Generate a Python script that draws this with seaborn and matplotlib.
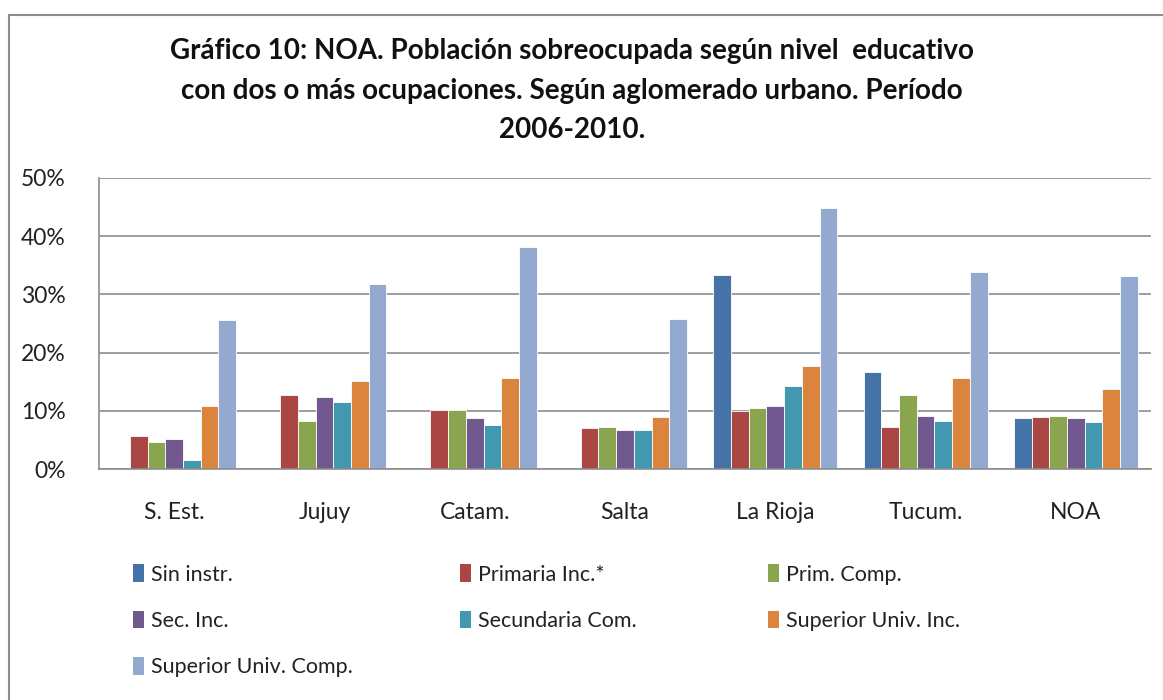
import matplotlib
matplotlib.use("Agg")
import matplotlib.pyplot as plt
import seaborn as sns
import pandas as pd
from matplotlib.patches import Rectangle, Patch
from matplotlib.ticker import PercentFormatter

categories = ["S. Est.", "Jujuy", "Catam.", "Salta", "La Rioja", "Tucum.", "NOA"]
series = ["Sin instr.", "Primaria Inc.*", "Prim. Comp.", "Sec. Inc.",
          "Secundaria Com.", "Superior Univ. Inc.", "Superior Univ. Comp."]
sin_instr = [0.0, 0.0, 0.0, 0.0, 33.3, 16.7, 8.7]
primaria_inc = [5.6, 12.8, 10.2, 7.1, 10.0, 7.3, 8.9]
prim_comp = [4.7, 8.2, 10.2, 7.3, 10.4, 12.8, 9.1]
sec_inc = [5.2, 12.4, 8.7, 6.7, 10.9, 9.1, 8.7]
secundaria_com = [1.6, 11.5, 7.6, 6.7, 14.2, 8.2, 8.0]
sup_univ_inc = [10.9, 15.1, 15.7, 8.9, 17.7, 15.7, 13.7]
sup_univ_comp = [25.6, 31.8, 38.1, 25.8, 44.8, 33.8, 33.1]
colors = ["#4572A7", "#AA4643", "#89A54E", "#71588F", "#4198AF", "#DB843D", "#93A9CF"]

values = [sin_instr, primaria_inc, prim_comp, sec_inc, secundaria_com, sup_univ_inc, sup_univ_comp]
rows = []
for s, vals in zip(series, values):
    for c, v in zip(categories, vals):
        rows.append({"cat": c, "serie": s, "val": v})
df = pd.DataFrame(rows)

sns.set_theme(style="white")
plt.rcParams['font.family'] = ['Lato', 'DejaVu Sans']

fig = plt.figure(figsize=(11.63, 7.0), dpi=100)
ax = fig.add_axes([99/1163, 1 - 469/700, (1151 - 99)/1163, (469 - 178)/700])

sns.barplot(data=df, x="cat", y="val", hue="serie", order=categories, hue_order=series,
            palette=colors, width=0.825, gap=0, ax=ax, legend=False,
            edgecolor="white", linewidth=0.6, saturation=1)

ax.set_ylim(0, 50)
ax.set_yticks([0, 10, 20, 30, 40, 50])
ax.yaxis.set_major_formatter(PercentFormatter(decimals=0))
ax.set_xlim(-0.5, len(categories) - 0.5)
ax.yaxis.grid(True, color="#8c8c8c", linewidth=1.2)
ax.set_axisbelow(True)
for sp in ["top", "right"]:
    ax.spines[sp].set_visible(False)
for sp in ["left", "bottom"]:
    ax.spines[sp].set_color("#8c8c8c")
    ax.spines[sp].set_linewidth(1.2)
ax.set_xlabel("")
ax.set_ylabel("")
ax.tick_params(axis="both", labelsize=16.5, colors="#222222", length=0)
ax.tick_params(axis="x", pad=24)
ax.tick_params(axis="y", pad=24)

fig.text(0.492, 1 - 38/700, "Gráfico 10: NOA. Población sobreocupada según nivel  educativo\n"
         "con dos o más ocupaciones. Según aglomerado urbano. Período\n2006-2010.",
         ha="center", va="top", fontsize=20, fontweight="bold", linespacing=1.65, color="#111111")

# outer frame
fig.patches.append(Rectangle((9/1163, -0.01), 1.0, 1 - 15/700 + 0.01,
                             transform=fig.transFigure, fill=False,
                             edgecolor="#8c8c8c", linewidth=1.5, clip_on=False))

handles = [Patch(facecolor=c, edgecolor="none") for c in colors]
col_items = [[0, 3, 6], [1, 4], [2, 5]]
col_x = [114, 441, 749]
for items, x in zip(col_items, col_x):
    leg = fig.legend([handles[i] for i in items], [series[i] for i in items],
                     loc="upper left", bbox_to_anchor=(x/1163, 1 - 545/700),
                     ncol=1, frameon=False, fontsize=15.5, handlelength=0.5, handleheight=0.9,
                     handletextpad=0.3, labelspacing=1.2)
    for t in leg.get_texts():
        t.set_color("#222222")

fig.savefig("out.png", dpi=100)
